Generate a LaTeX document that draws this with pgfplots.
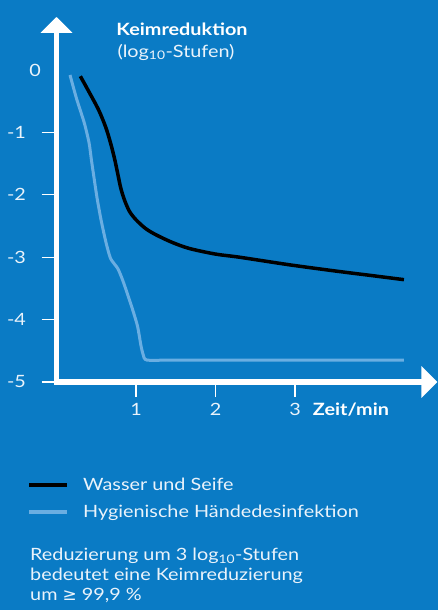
\documentclass[border=0pt]{standalone}
\usepackage{pgfplots}
\pgfplotsset{compat=1.18}
\usetikzlibrary{arrows.meta}
\usepackage{fontspec}
\setmainfont{Lato}[FakeStretch=1.17]
\newfontfamily\dv{DejaVu Sans}
\definecolor{bg}{HTML}{0A7BC5}
\definecolor{lblue}{HTML}{6AAEE2}
\definecolor{txt}{HTML}{EAF3FB}
\newcommand{\fs}{\fontsize{17}{20}\selectfont}
\begin{document}
\begin{tikzpicture}
\fill[bg] (0bp,0bp) rectangle (438bp,610bp);
\useasboundingbox (0bp,0bp) rectangle (438bp,610bp);
\begin{axis}[
  at={(56.5bp,228bp)}, anchor=south west,
  x=79.5bp, y=62.4bp,
  xmin=0, xmax=4.79, ymin=-5, ymax=0.85,
  axis lines=left,
  axis line style={white, line width=5.5bp, line cap=rect},
  x axis line style={-{Triangle[width=31bp,length=16bp]}},
  y axis line style={-{Triangle[width=31bp,length=16bp]}},
  xtick={1,2,3}, xticklabels={1,2,3},
  ytick={-5,-4,-3,-2,-1}, yticklabels={-5,-4,-3,-2,-1},
  extra y ticks={0}, extra y tick labels={0},
  extra y tick style={major tick length=0pt},
  tick align=outside, major tick length=15bp,
  tick style={white, line width=1.3bp},
  tick label style={font=\fs, text=txt},
  yticklabel style={xshift=-12bp},
  xticklabel style={yshift=-3bp},
  clip=false,
  legend cell align=left,
  legend style={draw=none, fill=none, at={(-0.0775,-0.258)}, anchor=north west,
    font=\fs, text=txt, row sep=9bp, inner sep=0pt,
    /tikz/every odd column/.append style={column sep=12bp}},
  legend image code/.code={\draw[#1, line width=4bp] (0bp,0bp) -- (38bp,0bp);},
]
\addplot[black, line width=3.5bp, smooth, tension=0.5] coordinates {
(0.30,-0.10) (0.40,-0.33) (0.53,-0.64) (0.62,-0.92) (0.68,-1.17) (0.73,-1.42)
(0.77,-1.66) (0.81,-1.90) (0.86,-2.10) (0.92,-2.27) (1.00,-2.40) (1.12,-2.54)
(1.25,-2.64) (1.45,-2.76) (1.67,-2.86) (2.00,-2.95) (2.30,-3.00) (2.92,-3.12)
(3.50,-3.22) (4.00,-3.30) (4.37,-3.36)};
\addlegendentry{Wasser und Seife}
\addplot[lblue, line width=3bp, smooth, tension=0.4] coordinates {
(0.17,-0.08) (0.25,-0.45) (0.35,-0.85) (0.41,-1.17) (0.44,-1.45) (0.47,-1.71)
(0.51,-2.05) (0.56,-2.40) (0.62,-2.75) (0.68,-3.02) (0.77,-3.18) (0.83,-3.36)
(0.89,-3.58) (0.96,-3.85) (1.02,-4.11) (1.06,-4.40) (1.09,-4.56) (1.14,-4.65)
(1.50,-4.65) (4.37,-4.65)};
\addlegendentry{Hygienische Händedesinfektion}
\end{axis}
\node[text=white, font=\fs\bfseries] at (182bp,581bp) {Keimreduktion};
\node[text=txt, font=\fs] at (176bp,558bp) {(log\textsubscript{10}-Stufen)};
\node[text=white, font=\fs\bfseries] at (351bp,200bp) {Zeit/min};
\node[text=txt, font=\fs, align=left, anchor=north west, inner sep=0pt] at (30bp,62bp)
 {Reduzierung um 3 log\textsubscript{10}-Stufen\\bedeutet eine Keimreduzierung\\um {\dv ≥} 99,9 \%};
\end{tikzpicture}
\end{document}
